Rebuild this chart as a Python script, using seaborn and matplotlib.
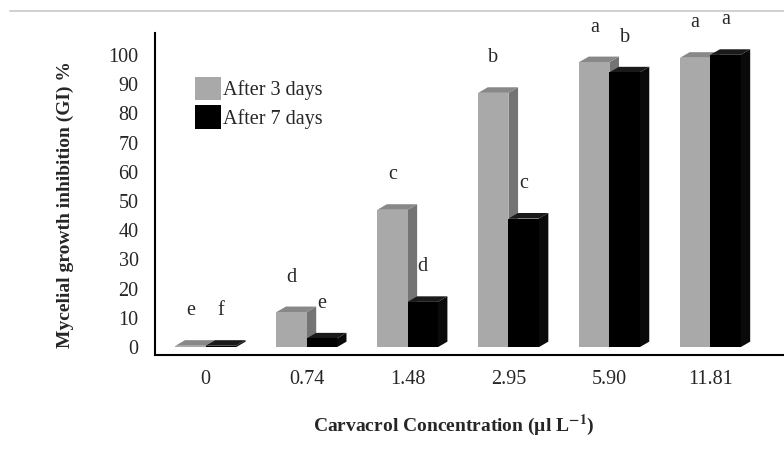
import pandas as pd
import matplotlib.pyplot as plt
import seaborn as sns
from matplotlib.patches import Polygon
from matplotlib.lines import Line2D

concentrations = ["0", "0.74", "1.48", "2.95", "5.90", "11.81"]
after_3_days = [0.5, 12, 47, 87, 97.5, 99]
after_7_days = [0.5, 3, 15.5, 44, 94, 100]
letters_3_days = ["e", "d", "c", "b", "a", "a"]
letters_7_days = ["f", "e", "d", "c", "b", "a"]
series_names = ["After 3 days", "After 7 days"]

data = pd.DataFrame({
    "conc": concentrations * 2,
    "gi": after_3_days + after_7_days,
    "series": [series_names[0]] * 6 + [series_names[1]] * 6,
})

sns.set_theme(style="white")
plt.rcParams["font.family"] = ["Liberation Serif", "DejaVu Serif"]
plt.rcParams["mathtext.fontset"] = "stix"

fig = plt.figure(figsize=(7.84, 4.57), dpi=100)
ax = fig.add_axes([0.198, 0.223, 0.802, 0.705])

front = {series_names[0]: "#a9a9a9", series_names[1]: "#000000"}
side = {series_names[0]: "#747474", series_names[1]: "#0a0a0a"}
top = {series_names[0]: "#888888", series_names[1]: "#1a1a1a"}

sns.barplot(data=data, x="conc", y="gi", hue="series", palette=front,
            width=0.6, gap=0, linewidth=0, saturation=1, ax=ax, legend=True)

# fake 3D depth on each bar, like the original spreadsheet chart
dx, dy = 0.095, 1.9
letters = [letters_3_days, letters_7_days]
for k, (cont, name) in enumerate(zip(ax.containers, series_names)):
    z = 1 + 2 * k
    for j, bar in enumerate(cont):
        bar.set_zorder(z + 1)
        x0, w, h = bar.get_x(), bar.get_width(), bar.get_height()
        ax.add_patch(Polygon([(x0 + w, 0), (x0 + w + dx, dy), (x0 + w + dx, h + dy), (x0 + w, h)],
                             closed=True, facecolor=side[name], edgecolor="none", zorder=z))
        ax.add_patch(Polygon([(x0, h), (x0 + dx, h + dy), (x0 + w + dx, h + dy), (x0 + w, h)],
                             closed=True, facecolor=top[name], edgecolor="none", zorder=z))
        ax.text(x0 + w / 2, h + 12, letters[k][j], ha="center", va="center",
                fontsize=14.5, zorder=6, clip_on=False)

ax.set_xlim(-0.5, 5.73)
ax.set_ylim(-2.7, 107.5)
ax.set_yticks(range(0, 101, 10))
ax.tick_params(axis="both", length=0, labelsize=14.5)
ax.tick_params(axis="y", pad=12)
ax.tick_params(axis="x", pad=11)
sns.despine(ax=ax, top=True, right=True)
for s in ["left", "bottom"]:
    ax.spines[s].set_color("black")
    ax.spines[s].set_linewidth(1.5)

ax.set_ylabel("Mycelial growth inhibition (GI) %", fontsize=14, fontweight="bold")
ax.yaxis.set_label_coords(-0.129, 0.466)
ax.set_xlabel(r"Carvacrol Concentration (µl L$^{\mathbf{-1}}$)", fontsize=14, fontweight="bold")
ax.xaxis.set_label_coords(0.475, -0.18)

ax.legend(loc="upper left", bbox_to_anchor=(0.064, 0.863), frameon=False, fontsize=14.5,
          handlelength=1.25, handleheight=1.4, handletextpad=0.1, labelspacing=0.25,
          borderpad=0, borderaxespad=0, title=None)

fig.add_artist(Line2D([0.013, 1.0], [0.976, 0.976], color="#c8c8c8", lw=1.2))

fig.savefig("out.png", dpi=100)
